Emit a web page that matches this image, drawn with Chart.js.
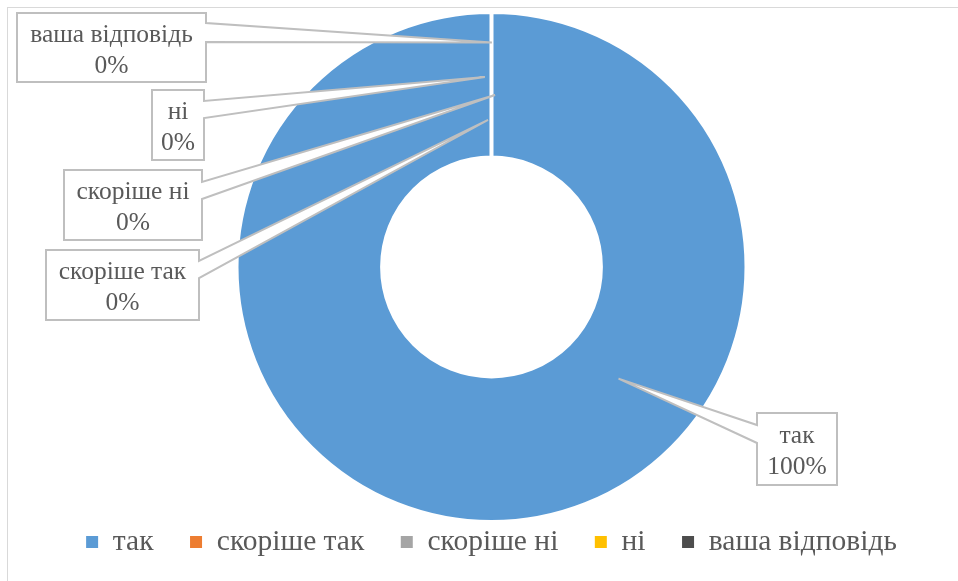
<!DOCTYPE html>
<html>
<head>
<meta charset="utf-8">
<script src="https://cdn.jsdelivr.net/npm/chart.js@4.4.0/dist/chart.umd.min.js"></script>
<style>
  html, body { margin: 0; padding: 0; background: #fff; overflow: hidden; }
  #frame { position: absolute; left: 7px; top: 7px; width: 1000px; height: 700px;
           border-top: 1px solid #d9d9d9; border-left: 1px solid #d9d9d9; }
  #chart { position: absolute; left: 0; top: 0; }
</style>
</head>
<body>
<div id="frame"></div>
<canvas id="chart" width="980" height="600"></canvas>
<script>
// дані
const categories = ["так", "скоріше так", "скоріше ні", "ні", "ваша відповідь"];
const values = [100, 0, 0, 0, 0];

const colors = ["#5B9BD5", "#ED7D31", "#A5A5A5", "#FFC000", "#4D4D4D"];
const textColor = "#595959";
const serif = "'Liberation Serif', 'Times New Roman', serif";

// розміщення виносок: рамка [x, y, w, h], бік клина, клин (відступи від верху рамки),
// кут вістря від початку сектора (град.), частка товщини кільця
const callouts = [
  { box: [757, 413, 80, 72], side: "left", wedge: [12, 30], angle: 131.3, f: 0.41 },
  { box: [46, 250, 153, 70], side: "right", wedge: [11, 28], angle: -1.35, f: 0.26 },
  { box: [64, 170, 138, 70], side: "right", wedge: [12, 29], angle: 1.2, f: 0.43 },
  { box: [152, 90, 52, 70], side: "right", wedge: [11, 28], angle: -2, f: 0.555 },
  { box: [17, 13, 189, 69], side: "right", wedge: [10, 29], angle: 0.1, f: 0.79 },
];

const total = values.reduce((a, b) => a + b, 0);

const calloutPlugin = {
  id: "callouts",
  afterDraw(chart) {
    const ctx = chart.ctx;
    const arcs = chart.getDatasetMeta(0).data;
    ctx.save();
    callouts.forEach((c, i) => {
      const arc = arcs[i];
      const a = arc.startAngle + (c.angle * Math.PI) / 180;
      const r = arc.innerRadius + c.f * (arc.outerRadius - arc.innerRadius);
      const tx = arc.x + Math.cos(a) * r;
      const ty = arc.y + Math.sin(a) * r;
      const [x, y, w, h] = c.box;

      ctx.beginPath();
      if (c.side === "right") {
        ctx.moveTo(x, y);
        ctx.lineTo(x + w, y);
        ctx.lineTo(x + w, y + c.wedge[0]);
        ctx.lineTo(tx, ty);
        ctx.lineTo(x + w, y + c.wedge[1]);
        ctx.lineTo(x + w, y + h);
        ctx.lineTo(x, y + h);
      } else {
        ctx.moveTo(x, y);
        ctx.lineTo(x + w, y);
        ctx.lineTo(x + w, y + h);
        ctx.lineTo(x, y + h);
        ctx.lineTo(x, y + c.wedge[1]);
        ctx.lineTo(tx, ty);
        ctx.lineTo(x, y + c.wedge[0]);
      }
      ctx.closePath();
      ctx.fillStyle = "#ffffff";
      ctx.fill();
      ctx.lineWidth = 2;
      ctx.lineJoin = "miter";
      ctx.strokeStyle = "#bfbfbf";
      ctx.stroke();

      const pct = Math.round((values[i] / total) * 100) + "%";
      ctx.fillStyle = textColor;
      ctx.font = "25.5px " + serif;
      ctx.textAlign = "center";
      ctx.textBaseline = "middle";
      const cx = x + w / 2;
      const cy = y + h / 2 + 3;
      ctx.fillText(categories[i], cx, cy - 15.5);
      ctx.fillText(pct, cx, cy + 15.5);
    });
    ctx.restore();
  },
};

new Chart(document.getElementById("chart"), {
  type: "doughnut",
  data: {
    labels: categories,
    datasets: [
      {
        data: values,
        backgroundColor: colors,
        borderColor: "#ffffff",
        borderWidth: 4,
      },
    ],
  },
  options: {
    responsive: false,
    animation: false,
    radius: 255,
    cutout: "42.9%",
    layout: { padding: { left: 10, right: 7, top: 43.25, bottom: 33.25 } },
    plugins: {
      tooltip: { enabled: false },
      legend: {
        position: "bottom",
        labels: {
          boxWidth: 12,
          boxHeight: 12,
          padding: 36.5,
          color: textColor,
          font: { size: 29.5, family: serif },
          generateLabels: (chart) =>
            Chart.overrides.doughnut.plugins.legend.labels
              .generateLabels(chart)
              .map((l) => ({ ...l, lineWidth: 0 })),
        },
      },
    },
  },
  plugins: [calloutPlugin],
});
</script>
</body>
</html>
